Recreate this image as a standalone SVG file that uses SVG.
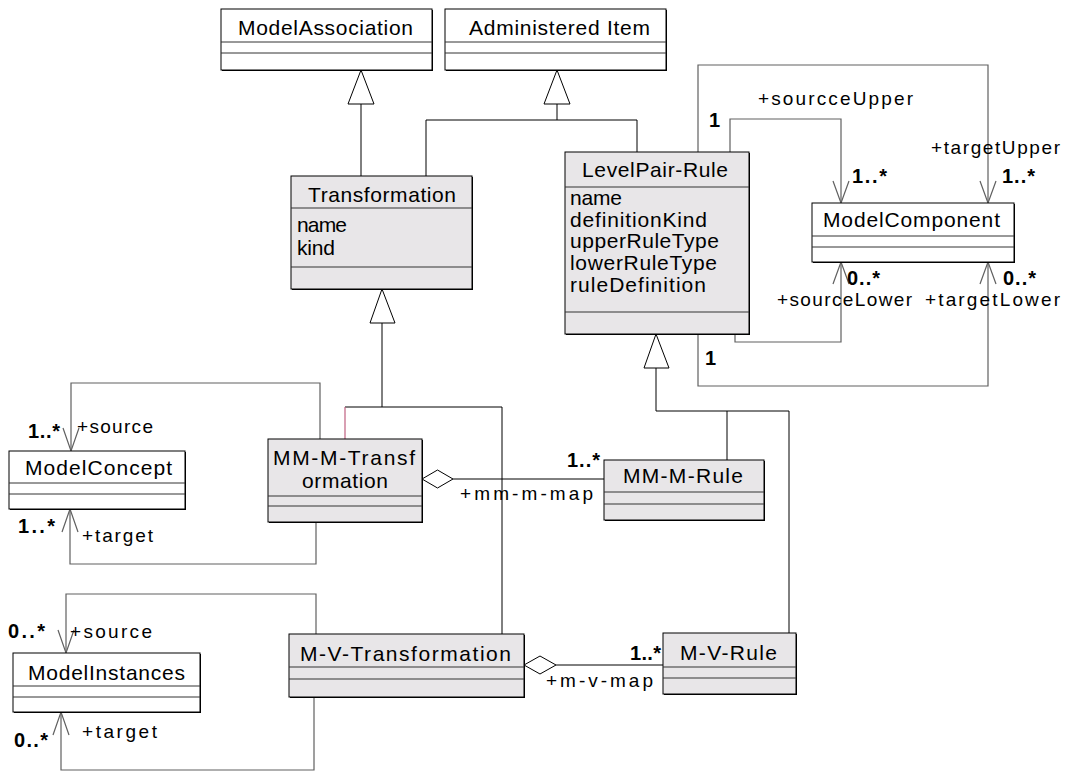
<svg xmlns="http://www.w3.org/2000/svg" width="1069" height="772" viewBox="0 0 1069 772">
<style>
.box{stroke:#000;stroke-width:1}
.w{fill:#fff}
.g{fill:#E8E6E8}
.sh{fill:#000}
.div{stroke:#333;stroke-width:1}
.t{font-family:"Liberation Sans",Arial,sans-serif;font-size:21px;fill:#000}
.a{font-family:"Liberation Sans",Arial,sans-serif;font-size:21px;fill:#000}
.l{font-family:"Liberation Sans",Arial,sans-serif;font-size:19px;fill:#000}
.m{font-family:"Liberation Sans",Arial,sans-serif;font-size:20px;font-weight:bold;fill:#000}
.c{fill:none;stroke:#606060;stroke-width:1.2}
.k{fill:none;stroke:#000;stroke-width:1}
.tri{fill:#fff;stroke:#000;stroke-width:1}
.dia{fill:#fff;stroke:#000;stroke-width:1}
</style>
<rect width="1069" height="772" fill="#fff"/>
<g id="connectors">
  <polyline class="k" points="361,104 361,176"/>
  <polyline class="k" points="426,176 426,120 637,120 637,152"/>
  <polyline class="k" points="557,120 557,104"/>
  <polyline class="k" points="382,323 382,407"/>
  <polyline class="k" points="345,407 502,407 502,634"/>
  <line x1="345" y1="407" x2="345" y2="439" stroke="#C06080" stroke-width="1.2"/>
  <polyline class="k" points="656,368 656,411 789,411 789,633"/>
  <polyline class="k" points="727,411 727,460"/>
  <polygon class="tri" points="361,70 348,104 374,104"/>
  <polygon class="tri" points="557,70 544,104 570,104"/>
  <polygon class="tri" points="382,289 370,323 395,323"/>
  <polygon class="tri" points="656,334 644,368 669,368"/>
  <polyline class="c" points="730,152 730,119 841,119 841,203"/>
  <polyline class="c" points="698,152 698,65 988,65 988,203"/>
  <polyline class="c" points="735,334 735,342 841,342 841,262"/>
  <polyline class="c" points="698,334 698,386 988,386 988,262"/>
  <polyline class="c" points="833,181 841,203 849,181"/>
  <polyline class="c" points="980,181 988,203 996,181"/>
  <polyline class="c" points="833,284 841,262 849,284"/>
  <polyline class="c" points="980,284 988,262 996,284"/>
  <polyline class="c" points="320,439 320,383 71,383 71,451"/>
  <polyline class="c" points="316,522 316,564 70,564 70,509"/>
  <polyline class="c" points="63,428 71,451 79,428"/>
  <polyline class="c" points="62,532 70,509 78,532"/>
  <polyline class="c" points="316,634 316,594 66,594 66,653"/>
  <polyline class="c" points="314,697 314,770 61,770 61,712"/>
  <polyline class="c" points="58,630 66,653 74,630"/>
  <polyline class="c" points="53,735 61,712 69,735"/>
  <line class="k" x1="453" y1="479" x2="604" y2="479"/>
  <polygon class="dia" points="422,479 437.5,470 453,479 437.5,488"/>
  <line class="k" x1="556" y1="665" x2="663" y2="665"/>
  <polygon class="dia" points="524,665 540,656 556,665 540,674"/>
  <text class="l" x="758" y="105" textLength="155">+sourcceUpper</text>
  <text class="m" x="709" y="127">1</text>
  <text class="l" x="931" y="154" textLength="129">+targetUpper</text>
  <text class="m" x="852" y="183" textLength="35">1..*</text>
  <text class="m" x="1002" y="183" textLength="33">1..*</text>
  <text class="m" x="847" y="285" textLength="33">0..*</text>
  <text class="m" x="1003" y="285" textLength="33">0..*</text>
  <text class="l" x="777" y="306" textLength="135">+sourceLower</text>
  <text class="l" x="925" y="306" textLength="135">+targetLower</text>
  <text class="m" x="705" y="365">1</text>
  <text class="m" x="28" y="438" textLength="32">1..*</text>
  <text class="l" x="77" y="433" textLength="76">+source</text>
  <text class="m" x="18" y="533" textLength="37">1..*</text>
  <text class="l" x="82" y="542" textLength="71">+target</text>
  <text class="m" x="567" y="467" textLength="33">1..*</text>
  <text class="l" x="460" y="500" textLength="133">+mm-m-map</text>
  <text class="m" x="630" y="660" textLength="31">1..*</text>
  <text class="l" x="546" y="687" textLength="107">+m-v-map</text>
  <text class="m" x="8" y="638" textLength="37">0..*</text>
  <text class="l" x="70" y="638" textLength="82">+source</text>
  <text class="m" x="14" y="747" textLength="34">0..*</text>
  <text class="l" x="82" y="738" textLength="75">+target</text>
</g>
<g id="ModelAssociation">
  <rect class="sh" x="222" y="10" width="211" height="61"/>
  <rect class="box w" x="221" y="9" width="211" height="61"/>
  <line class="div" x1="221" y1="42" x2="432" y2="42"/>
  <line class="div" x1="221" y1="53" x2="432" y2="53"/>
  <text class="t" x="238" y="35" textLength="175">ModelAssociation</text>
</g>
<g id="AdministeredItem">
  <rect class="sh" x="446" y="10" width="221" height="61"/>
  <rect class="box w" x="445" y="9" width="221" height="61"/>
  <line class="div" x1="445" y1="42" x2="666" y2="42"/>
  <line class="div" x1="445" y1="53" x2="666" y2="53"/>
  <text class="t" x="469" y="35" textLength="181">Administered Item</text>
</g>
<g id="Transformation">
  <rect class="sh" x="292" y="177" width="181" height="113"/>
  <rect class="box g" x="291" y="176" width="181" height="113"/>
  <line class="div" x1="291" y1="208" x2="472" y2="208"/>
  <line class="div" x1="291" y1="267" x2="472" y2="267"/>
  <text class="t" x="308" y="202" textLength="148">Transformation</text>
  <text class="a" x="297" y="232" textLength="50">name</text>
  <text class="a" x="297" y="255" textLength="38">kind</text>
</g>
<g id="LevelPairRule">
  <rect class="sh" x="566" y="153" width="184" height="182"/>
  <rect class="box g" x="565" y="152" width="184" height="182"/>
  <line class="div" x1="565" y1="187" x2="749" y2="187"/>
  <line class="div" x1="565" y1="312" x2="749" y2="312"/>
  <text class="t" x="582" y="177" textLength="146">LevelPair-Rule</text>
  <text class="a" x="570" y="205" textLength="52">name</text>
  <text class="a" x="570" y="227" textLength="137">definitionKind</text>
  <text class="a" x="570" y="248" textLength="149">upperRuleType</text>
  <text class="a" x="570" y="270" textLength="147">lowerRuleType</text>
  <text class="a" x="570" y="292" textLength="136">ruleDefinition</text>
</g>
<g id="ModelComponent">
  <rect class="sh" x="813" y="204" width="202" height="59"/>
  <rect class="box w" x="812" y="203" width="202" height="59"/>
  <line class="div" x1="812" y1="236" x2="1014" y2="236"/>
  <line class="div" x1="812" y1="247" x2="1014" y2="247"/>
  <text class="t" x="823" y="227" textLength="177">ModelComponent</text>
</g>
<g id="ModelConcept">
  <rect class="sh" x="10" y="452" width="176" height="58"/>
  <rect class="box w" x="9" y="451" width="176" height="58"/>
  <line class="div" x1="9" y1="483" x2="185" y2="483"/>
  <line class="div" x1="9" y1="494" x2="185" y2="494"/>
  <text class="t" x="25" y="475" textLength="147">ModelConcept</text>
</g>
<g id="MMMTransformation">
  <rect class="sh" x="269" y="440" width="154" height="83"/>
  <rect class="box g" x="268" y="439" width="154" height="83"/>
  <line class="div" x1="268" y1="496" x2="422" y2="496"/>
  <line class="div" x1="268" y1="506" x2="422" y2="506"/>
  <text class="t" x="273" y="465" textLength="142">MM-M-Transf</text>
  <text class="t" x="302" y="488" textLength="86">ormation</text>
</g>
<g id="MMMRule">
  <rect class="sh" x="605" y="461" width="160" height="60"/>
  <rect class="box g" x="604" y="460" width="160" height="60"/>
  <line class="div" x1="604" y1="492" x2="764" y2="492"/>
  <line class="div" x1="604" y1="504" x2="764" y2="504"/>
  <text class="t" x="623" y="483" textLength="120">MM-M-Rule</text>
</g>
<g id="ModelInstances">
  <rect class="sh" x="14" y="654" width="187" height="59"/>
  <rect class="box w" x="13" y="653" width="187" height="59"/>
  <line class="div" x1="13" y1="686" x2="200" y2="686"/>
  <line class="div" x1="13" y1="697" x2="200" y2="697"/>
  <text class="t" x="28" y="680" textLength="157">ModelInstances</text>
</g>
<g id="MVTransformation">
  <rect class="sh" x="290" y="635" width="235" height="63"/>
  <rect class="box g" x="289" y="634" width="235" height="63"/>
  <line class="div" x1="289" y1="667" x2="524" y2="667"/>
  <line class="div" x1="289" y1="679" x2="524" y2="679"/>
  <text class="t" x="300" y="661" textLength="211">M-V-Transformation</text>
</g>
<g id="MVRule">
  <rect class="sh" x="664" y="634" width="133" height="61"/>
  <rect class="box g" x="663" y="633" width="133" height="61"/>
  <line class="div" x1="663" y1="667" x2="796" y2="667"/>
  <line class="div" x1="663" y1="678" x2="796" y2="678"/>
  <text class="t" x="680" y="660" textLength="97">M-V-Rule</text>
</g>
</svg>
